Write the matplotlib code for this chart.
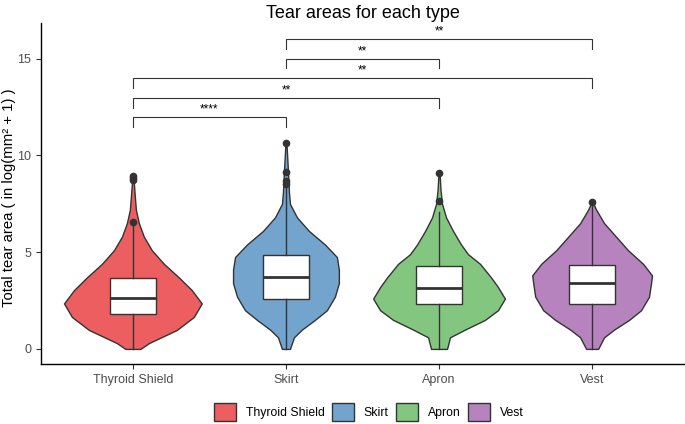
import numpy as np
import matplotlib
matplotlib.use('Agg')
import matplotlib.pyplot as plt
from matplotlib.patches import Patch

plt.rcParams['font.family'] = ['Liberation Sans', 'DejaVu Sans']

# ─── data ────────────────────────────────────────────────────────────────────
categories = ['Thyroid Shield', 'Skirt', 'Apron', 'Vest']
colors = ['#E41A1C', '#377EB8', '#4DAF4A', '#984EA3']

# violin density profiles (y value, relative density)
thyroid_y = [0.0, 0.3, 0.98, 1.65, 2.35, 3.04, 3.7, 4.4, 5.1, 5.8, 6.5, 7.2, 8.2, 8.93]
thyroid_d = [7.5, 16, 44, 61, 69, 59, 46, 31, 19, 11, 6, 3, 1.5, 0.5]
skirt_y = [0.0, 0.6, 1.0, 1.5, 2.0, 2.7, 3.4, 4.1, 4.75, 5.4, 6.1, 6.8, 7.5, 8.1, 9.2, 10.63]
skirt_d = [4, 8, 16, 29, 41, 49, 53, 53, 51, 39, 23, 11, 4, 3, 2, 0.5]
apron_y = [0.0, 0.6, 1.0, 1.5, 2.0, 2.6, 3.2, 3.7, 4.4, 4.9, 5.4, 6.1, 6.8, 7.5, 8.2, 9.09]
apron_d = [8, 11, 26, 46, 59, 66, 59, 52, 41, 29, 22, 14, 7, 3, 1.5, 0.5]
vest_y = [0.0, 0.6, 1.0, 1.5, 2.0, 2.7, 3.4, 3.8, 4.4, 5.1, 5.8, 6.5, 7.2, 7.59]
vest_d = [6, 12, 22, 37, 49, 57, 59, 60, 51, 36, 24, 12, 4, 0.5]

# box summaries
q1 = [1.80, 2.56, 2.30, 2.30]
median = [2.65, 3.71, 3.14, 3.40]
q3 = [3.68, 4.86, 4.29, 4.34]
whis_lo = [0.0, 0.0, 0.0, 0.0]
whis_hi = [6.45, 8.30, 7.10, 7.40]
outliers = [[6.56, 8.75, 8.85, 8.93],
            [8.54, 8.70, 9.15, 10.63],
            [7.63, 9.09],
            [7.59]]

# significance brackets (group i, group j, height, label)
sig_left = [1, 1, 1, 2, 2]
sig_right = [2, 3, 4, 3, 4]
sig_height = [11.97, 12.97, 14.0, 15.0, 16.0]
sig_label = ['****', '**', '**', '**', '**']

title = 'Tear areas for each type'
ylabel = 'Total tear area ( in log(mm² + 1) )'

# ─── plot ───────────────────────────────────────────────────────────────────
fig = plt.figure(figsize=(6.85, 4.24), dpi=100)
ax_box = [0.0599, 0.1415, 0.9386, 0.8043]
ax = fig.add_axes(ax_box)

pos = np.arange(1, len(categories) + 1)
profiles = [(thyroid_y, thyroid_d), (skirt_y, skirt_d),
            (apron_y, apron_d), (vest_y, vest_d)]
dens_max = max(max(d) for _, d in profiles)
vp_stats, widths = [], []
for (ys, ds), med in zip(profiles, median):
    vp_stats.append({'coords': np.array(ys), 'vals': np.array(ds, float),
                     'mean': med, 'median': med,
                     'min': ys[0], 'max': ys[-1]})
    widths.append(0.9 * max(ds) / dens_max)

parts = ax.violin(vp_stats, positions=pos, widths=widths,
                  showmeans=False, showextrema=False, showmedians=False)
for body, c in zip(parts['bodies'], colors):
    body.set_alpha(None)
    body.set_facecolor(matplotlib.colors.to_rgba(c, 0.7))
    body.set_edgecolor('#333333')
    body.set_linewidth(1.0)
    body.set_zorder(1)

bstats = []
for i in range(len(categories)):
    bstats.append({'med': median[i], 'q1': q1[i], 'q3': q3[i],
                   'whislo': whis_lo[i], 'whishi': whis_hi[i],
                   'fliers': outliers[i]})
ax.bxp(bstats, positions=pos, widths=0.3, patch_artist=True,
       showcaps=False,
       boxprops=dict(facecolor='white', edgecolor='#333333', linewidth=1.0),
       medianprops=dict(color='#333333', linewidth=2.0),
       whiskerprops=dict(color='#333333', linewidth=1.0),
       flierprops=dict(marker='o', markerfacecolor='#333333',
                       markeredgecolor='#333333', markersize=4.5),
       zorder=3)

for a, b, h, lab in zip(sig_left, sig_right, sig_height, sig_label):
    ax.plot([a, a, b, b], [h - 0.5, h, h, h - 0.5], color='#333333', lw=0.8,
            solid_joinstyle='miter')
    ax.text((a + b) / 2, h + 0.08, lab, ha='center', va='bottom', fontsize=8.5)

ax.set_xlim(0.4, 4.6)
ax.set_ylim(-0.78, 16.85)
ax.set_xticks(pos)
ax.set_xticklabels(categories)
ax.set_yticks([0, 5, 10, 15])
ax.tick_params(axis='both', colors='#333333', labelcolor='#4D4D4D',
               labelsize=9, length=3.5, width=0.8)
for s in ('top', 'right'):
    ax.spines[s].set_visible(False)
for s in ('left', 'bottom'):
    ax.spines[s].set_linewidth(1.0)
    ax.spines[s].set_color('black')

fig.text(0.0135, 0.533, ylabel, rotation=90, ha='center', va='center',
         fontsize=10.75)
fig.text(ax_box[0] + ax_box[2] / 2, 1 - 13 / 424, title, ha='center',
         va='center', fontsize=13)

handles = [Patch(facecolor=matplotlib.colors.to_rgba(c, 0.7), edgecolor='#333333',
                 label=n) for c, n in zip(colors, categories)]
fig.legend(handles=handles, loc='center', bbox_to_anchor=(0.538, 0.028),
           ncol=4, frameon=False, fontsize=8.8, handlelength=1.8,
           handleheight=1.8, handletextpad=0.8, columnspacing=0.6)

fig.savefig('out.png', dpi=100)
